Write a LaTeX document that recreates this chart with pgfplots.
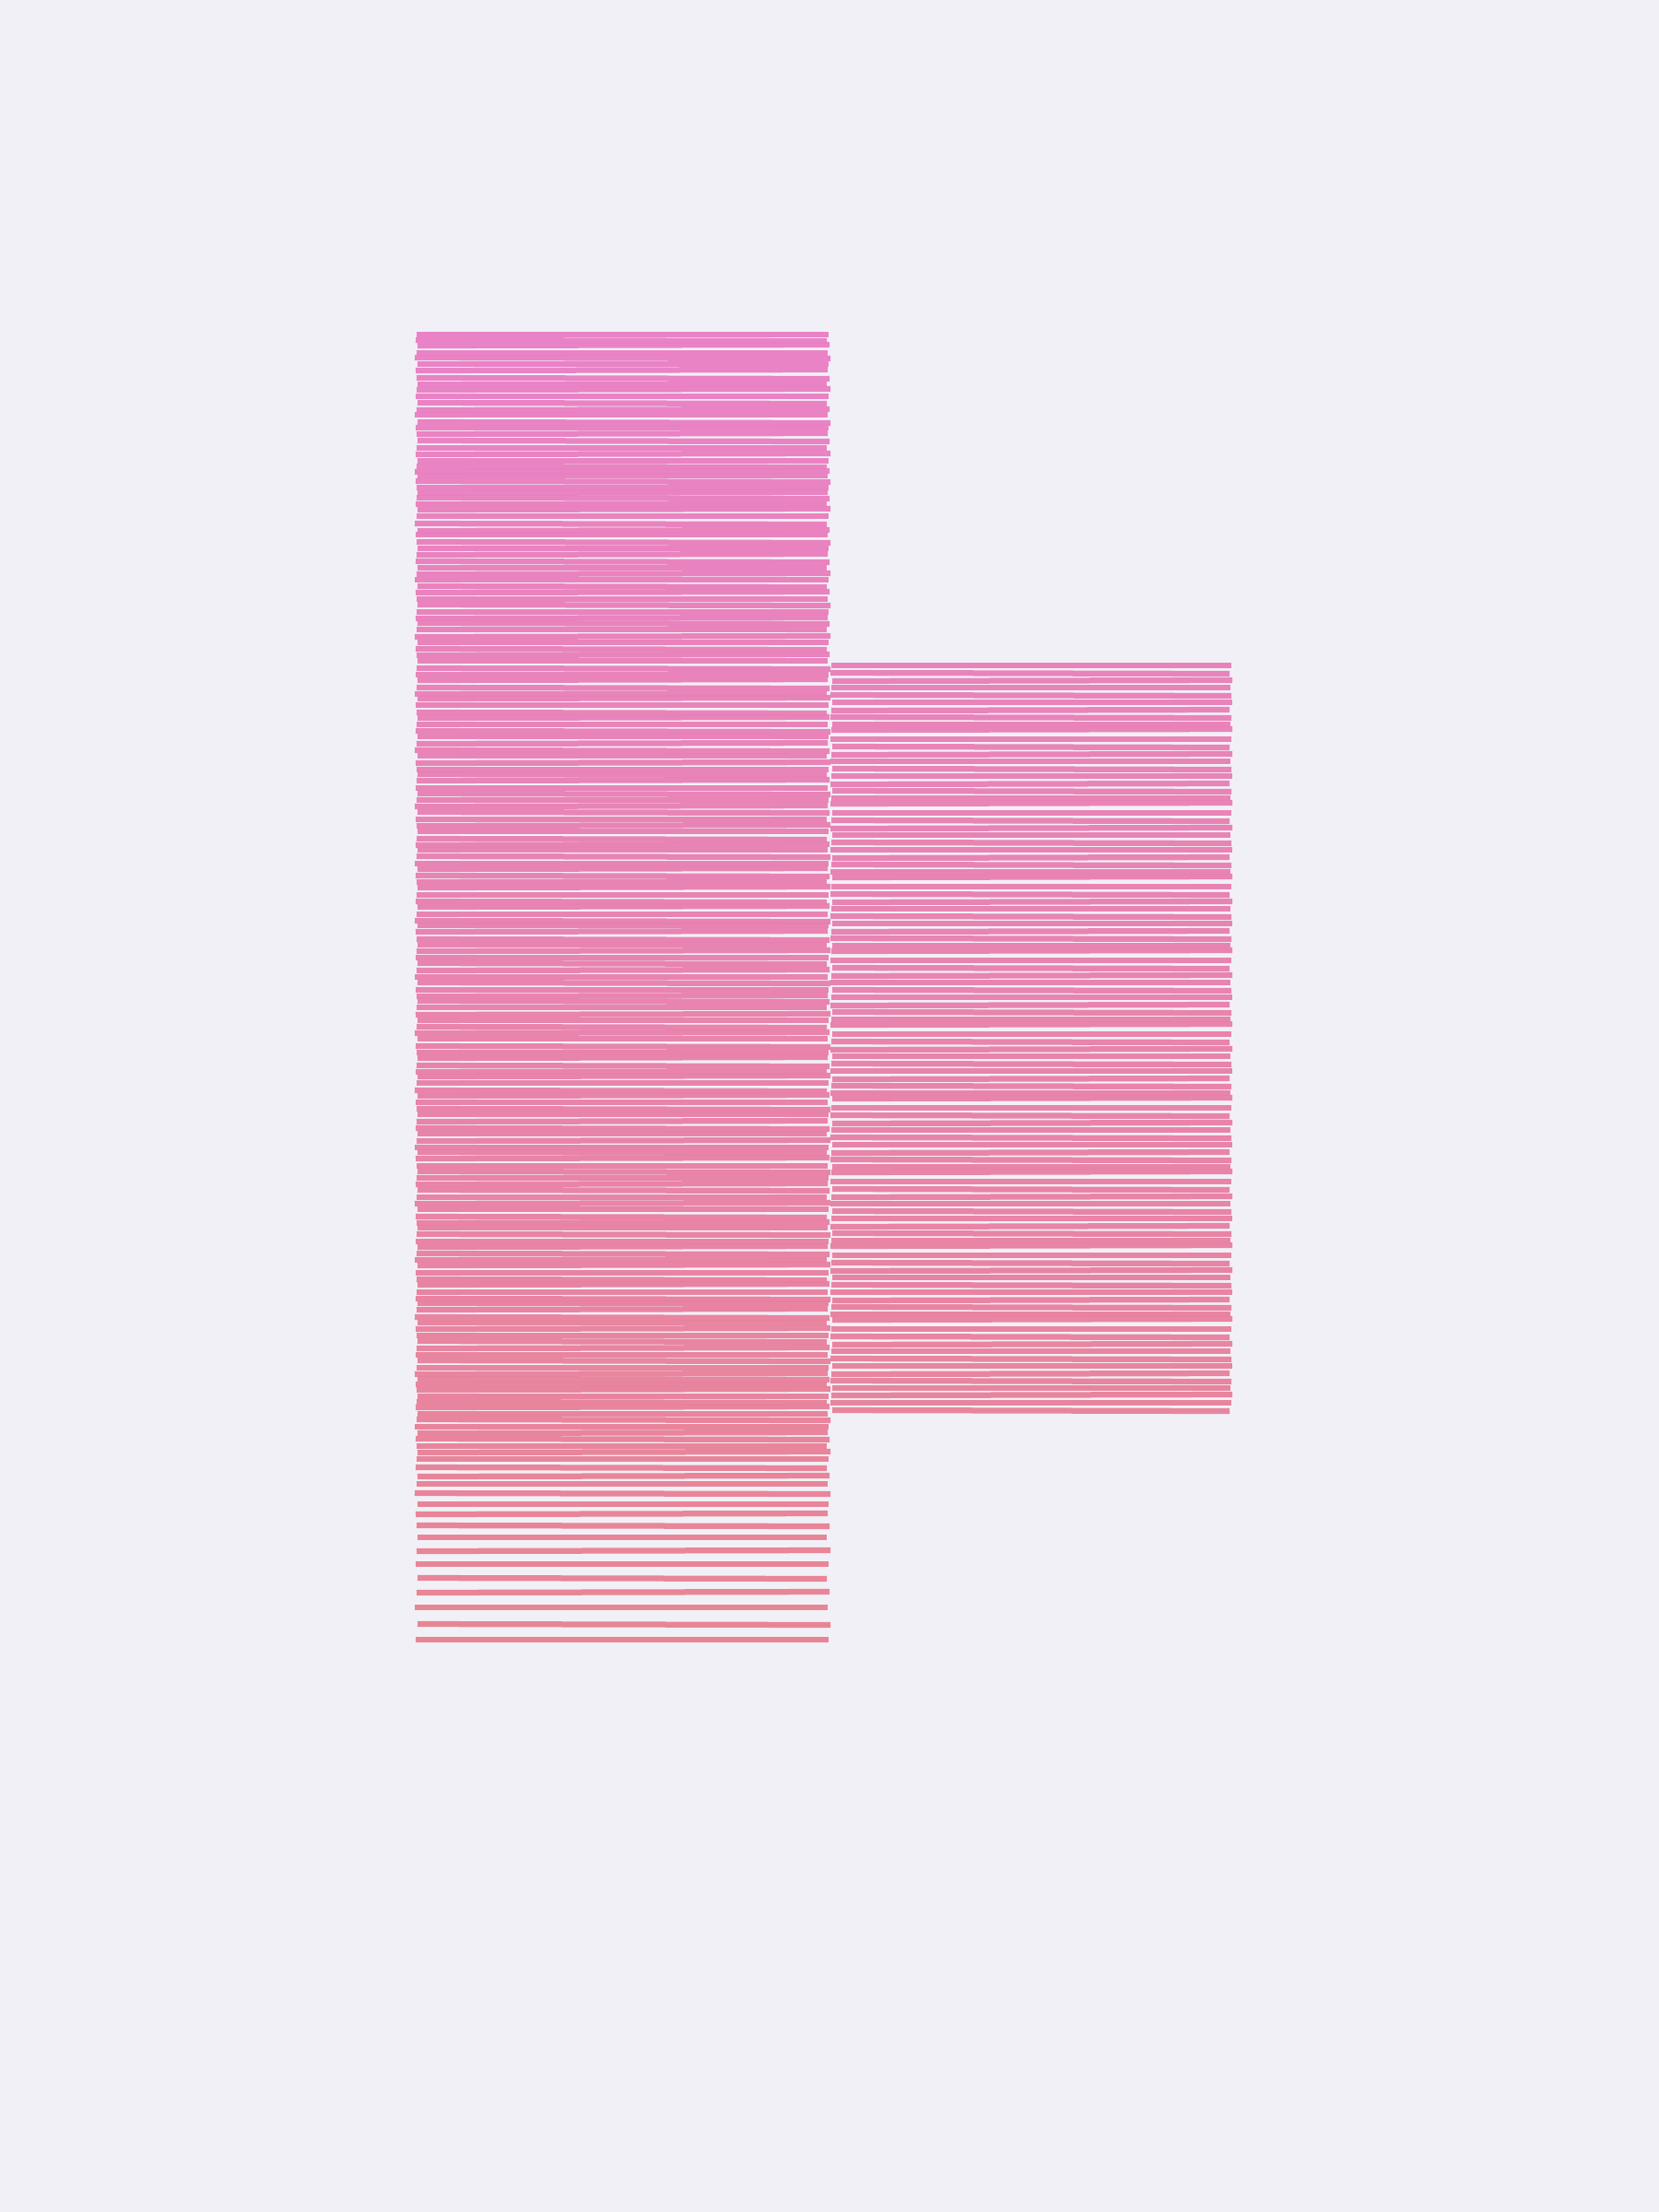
\documentclass[border=0pt]{standalone}
\usepackage{pgfplots}
\usepackage{pgfplotstable}
\pgfplotsset{compat=1.18}

\definecolor{BgColor}{HTML}{F2F0F7}

% columns: y (px from top), left end, right end, tilt
\pgfplotstableread{
y x0 x1 v
363 452 899 0
369 451 897 1
375 453 900 -1
383 452 898 0
388 450 901 1
395 453 899 0
402 451 898 -1
410 452 900 1
417 453 897 0
423 452 901 -1
430 451 899 0
437 453 897 1
445 452 900 -1
450 450 898 0
458 453 901 1
464 451 899 0
471 452 898 -1
478 453 900 1
486 452 897 0
493 451 901 -1
500 453 899 0
506 452 897 1
512 450 900 -1
516 453 898 0
522 451 901 1
529 452 899 0
535 453 898 -1
540 452 900 1
547 451 897 0
553 453 901 -1
560 452 899 0
568 450 897 1
576 453 900 -1
580 451 898 0
588 452 901 1
595 453 899 0
602 452 898 -1
609 451 900 1
616 453 897 0
623 452 901 -1
629 450 899 0
636 453 897 1
643 451 900 -1
650 452 898 0
656 453 901 1
664 452 899 0
671 451 898 -1
676 453 900 1
683 452 897 0
691 450 901 -1
697 453 899 0
704 451 897 1
711 452 900 -1
717 453 898 0
725 452 901 1
732 451 899 0
738 453 898 -1
746 452 900 1
753 450 897 0
758 453 901 -1
765 451 899 0
773 452 897 1
779 453 900 -1
786 452 898 0
793 451 901 1
799 453 899 0
807 452 898 -1
814 450 900 1
820 453 897 0
828 451 901 -1
835 452 899 0
840 453 897 1
847 452 900 -1
855 451 898 0
861 453 901 1
868 452 899 0
875 450 898 -1
881 453 900 1
889 451 897 0
896 452 901 -1
902 453 899 0
910 452 897 1
917 451 900 -1
922 453 898 0
929 452 901 1
937 450 899 0
943 453 898 -1
950 451 900 1
957 452 897 0
963 453 901 -1
971 452 899 0
978 451 897 1
984 453 900 -1
992 452 898 0
999 450 901 1
1004 453 899 0
1011 451 898 -1
1019 452 900 1
1025 453 897 0
1032 452 901 -1
1039 451 899 0
1045 453 897 1
1053 452 900 -1
1060 450 898 0
1066 453 901 1
1074 451 899 0
1081 452 898 -1
1086 453 900 1
1093 452 897 0
1101 451 901 -1
1107 453 899 0
1114 452 897 1
1121 450 900 -1
1127 453 898 0
1135 451 901 1
1142 452 899 0
1148 453 898 -1
1156 452 900 1
1163 451 897 0
1168 453 901 -1
1175 452 899 0
1183 450 897 1
1189 453 900 -1
1196 451 898 0
1203 452 901 1
1209 453 899 0
1217 452 898 -1
1224 451 900 1
1230 453 897 0
1238 452 901 -1
1245 450 899 0
1250 453 897 1
1257 451 900 -1
1265 452 898 0
1271 453 901 1
1278 452 899 0
1285 451 898 -1
1291 453 900 1
1299 452 897 0
1306 450 901 -1
1312 453 899 0
1320 451 897 1
1327 452 900 -1
1332 453 898 0
1339 452 901 1
1347 451 899 0
1353 453 898 -1
1360 452 900 1
1367 450 897 0
1373 453 901 -1
1381 451 899 0
1388 452 897 1
1394 453 900 -1
1402 452 898 0
1409 451 901 1
1414 453 899 0
1421 452 898 -1
1429 450 900 1
1435 453 897 0
1442 451 901 -1
1449 452 899 0
1455 453 897 1
1463 452 900 -1
1470 451 898 0
1476 453 901 1
1484 452 899 0
1491 450 898 -1
1496 453 900 1
1502 451 897 0
1508 452 901 -1
1515 453 899 0
1521 452 897 1
1527 451 900 -1
1534 453 898 0
1540 452 901 1
1548 450 899 0
1555 453 898 -1
1561 451 900 1
1569 452 897 0
1576 453 901 -1
1583 452 899 0
1592 451 897 1
1602 453 900 -1
1610 452 898 0
1620 450 901 1
1632 453 899 0
1643 451 898 -1
1655 452 900 1
1668 453 897 0
1683 452 901 -1
1697 451 899 0
1712 453 897 1
1728 452 900 -1
1744 450 898 0
1762 453 901 1
1779 451 899 0
}\leftcol

\pgfplotstableread{
y x0 x1 v
722 902 1336 0
730 901 1334 1
739 903 1337 -1
746 902 1335 0
754 901 1336 1
762 903 1337 0
771 902 1334 -1
778 901 1336 1
786 903 1335 0
792 902 1337 -1
802 901 1336 0
810 903 1334 1
819 902 1337 -1
826 901 1335 0
834 903 1336 1
842 902 1337 0
851 901 1334 -1
858 903 1336 1
866 902 1335 0
872 901 1337 -1
882 903 1336 0
890 902 1334 1
899 901 1337 -1
906 903 1335 0
914 902 1336 1
922 901 1337 0
931 903 1334 -1
938 902 1336 1
946 901 1335 0
952 903 1337 -1
962 902 1336 0
970 901 1334 1
979 903 1337 -1
986 902 1335 0
994 901 1336 1
1002 903 1337 0
1011 902 1334 -1
1018 901 1336 1
1026 903 1335 0
1032 902 1337 -1
1042 901 1336 0
1050 903 1334 1
1059 902 1337 -1
1066 901 1335 0
1074 903 1336 1
1082 902 1337 0
1091 901 1334 -1
1098 903 1336 1
1106 902 1335 0
1112 901 1337 -1
1122 903 1336 0
1130 902 1334 1
1139 901 1337 -1
1146 903 1335 0
1154 902 1336 1
1162 901 1337 0
1171 903 1334 -1
1178 902 1336 1
1186 901 1335 0
1192 903 1337 -1
1202 902 1336 0
1210 901 1334 1
1219 903 1337 -1
1226 902 1335 0
1234 901 1336 1
1242 903 1337 0
1251 902 1334 -1
1258 901 1336 1
1266 903 1335 0
1272 902 1337 -1
1282 901 1336 0
1290 903 1334 1
1299 902 1337 -1
1306 901 1335 0
1314 903 1336 1
1322 902 1337 0
1331 901 1334 -1
1338 903 1336 1
1346 902 1335 0
1352 901 1337 -1
1362 903 1336 0
1370 902 1334 1
1379 901 1337 -1
1386 903 1335 0
1394 902 1336 1
1402 901 1337 0
1411 903 1334 -1
1418 902 1336 1
1426 901 1335 0
1432 903 1337 -1
1442 902 1336 0
1450 901 1334 1
1459 903 1337 -1
1466 902 1335 0
1474 901 1336 1
1482 903 1337 0
1491 902 1334 -1
1498 901 1336 1
1506 903 1335 0
1514 902 1337 -1
1522 901 1336 0
1530 903 1334 1
}\rightcol

\begin{document}
\begin{tikzpicture}
  \begin{axis}[
    width=432pt,
    height=576pt,
    scale only axis,
    xmin=0, xmax=1800,
    ymin=0, ymax=2400,
    y dir=reverse,
    axis lines=none,
    ticks=none,
    axis background/.style={fill=BgColor},
    colormap={stripes}{rgb255=(233,126,197) rgb255=(232,127,172) rgb255=(232,128,143)},
    point meta min=361,
    point meta max=1779,
  ]
    \addplot[
      quiver={u=\thisrow{x1}-\thisrow{x0}, v=\thisrow{v}, colored=mapped color},
      point meta=\thisrow{y},
      line width=1.5pt,
      opacity=0.95,
    ] table[x=x0, y=y] {\leftcol};
    \addplot[
      quiver={u=\thisrow{x1}-\thisrow{x0}, v=\thisrow{v}, colored=mapped color},
      point meta=\thisrow{y},
      line width=1.5pt,
      opacity=0.95,
    ] table[x=x0, y=y] {\rightcol};
  \end{axis}
\end{tikzpicture}
\end{document}
